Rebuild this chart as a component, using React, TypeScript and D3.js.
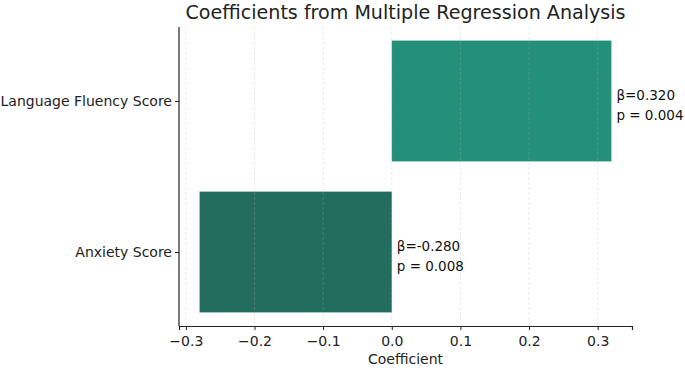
import React, { useEffect, useRef } from 'react';
import * as d3 from 'd3';

const categories = ['Anxiety Score', 'Language Fluency Score'];
const coefficients = [-0.28, 0.32];
const pValues = ['0.008', '0.004'];
const barColors = ['#236d5e', '#249079'];
const xTicks = [-0.3, -0.2, -0.1, 0.0, 0.1, 0.2, 0.3];

const App: React.FC = () => {
  const svgRef = useRef<SVGSVGElement | null>(null);

  useEffect(() => {
    const svg = d3.select(svgRef.current);
    svg.selectAll('*').remove();

    const width = 685;
    const height = 368;
    const left = 179;
    const right = 632;
    const top = 27;
    const bottom = 326;
    const font = 'DejaVu Sans, sans-serif';

    svg.attr('width', width).attr('height', height);

    const x = d3.scaleLinear().domain([-0.31, 0.35]).range([left, right]);
    // same layout as matplotlib barh: bars at 0 and 1, height 0.8
    const y = d3.scaleLinear().domain([-0.49, 1.49]).range([bottom, top]);
    const barH = y(0) - y(0.8);

    svg.selectAll('rect.bar')
      .data(coefficients)
      .enter()
      .append('rect')
      .attr('class', 'bar')
      .attr('x', (d) => x(Math.min(0, d)))
      .attr('y', (_, i) => y(i + 0.4))
      .attr('width', (d) => Math.abs(x(d) - x(0)))
      .attr('height', barH)
      .attr('fill', (_, i) => barColors[i]);

    // faint dashed grid drawn over the bars
    svg.append('g')
      .selectAll('line')
      .data(xTicks)
      .enter()
      .append('line')
      .attr('x1', (d) => x(d))
      .attr('x2', (d) => x(d))
      .attr('y1', top)
      .attr('y2', bottom)
      .attr('stroke', '#b0b0b0')
      .attr('stroke-opacity', 0.35)
      .attr('stroke-width', 0.8)
      .attr('stroke-dasharray', '3,2');

    const lbl = svg.append('g').attr('font-family', font).attr('font-size', 13.5).attr('fill', '#111');
    coefficients.forEach((d, i) => {
      const tx = x(Math.max(0, d)) + 5;
      const cy = y(i);
      const t = lbl.append('text').attr('x', tx).attr('y', cy - 1);
      t.append('tspan').attr('x', tx).text(`β=${d.toFixed(3)}`);
      t.append('tspan').attr('x', tx).attr('dy', 20).text(`p = ${pValues[i]}`);
    });

    const xAxis = svg.append('g')
      .attr('transform', `translate(0,${bottom})`)
      .call(d3.axisBottom(x).tickValues(xTicks).tickSize(4).tickPadding(6)
        .tickFormat((d) => d3.format('.1f')(d as number).replace('-', '−')));
    xAxis.select('.domain').attr('stroke', '#222').attr('stroke-width', 1.2);
    xAxis.selectAll('.tick line').attr('stroke', '#222');
    xAxis.selectAll('text').attr('font-family', font).attr('font-size', 14).attr('fill', '#222');

    const yAxis = svg.append('g')
      .attr('transform', `translate(${left},0)`)
      .call(d3.axisLeft(y).tickValues([0, 1]).tickSize(4).tickPadding(3)
        .tickFormat((d) => categories[d as number]));
    yAxis.select('.domain').attr('stroke', '#222').attr('stroke-width', 1.2)
      .attr('d', `M0,${top}V${bottom}`);
    yAxis.selectAll('.tick line').attr('stroke', '#222');
    yAxis.selectAll('text').attr('font-family', font).attr('font-size', 14).attr('fill', '#222');

    svg.append('text')
      .attr('x', (left + right) / 2)
      .attr('y', 19)
      .attr('text-anchor', 'middle')
      .attr('font-family', font)
      .attr('font-size', 20)
      .attr('textLength', 440)
      .attr('lengthAdjust', 'spacingAndGlyphs')
      .attr('fill', '#222')
      .text('Coefficients from Multiple Regression Analysis');

    svg.append('text')
      .attr('x', (left + right) / 2)
      .attr('y', 364)
      .attr('text-anchor', 'middle')
      .attr('font-family', font)
      .attr('font-size', 14)
      .attr('fill', '#222')
      .text('Coefficient');
  }, []);

  return (
    <svg ref={svgRef} style={{ position: 'absolute', left: 0, top: 0, display: 'block' }}></svg>
  );
};

export default App;
